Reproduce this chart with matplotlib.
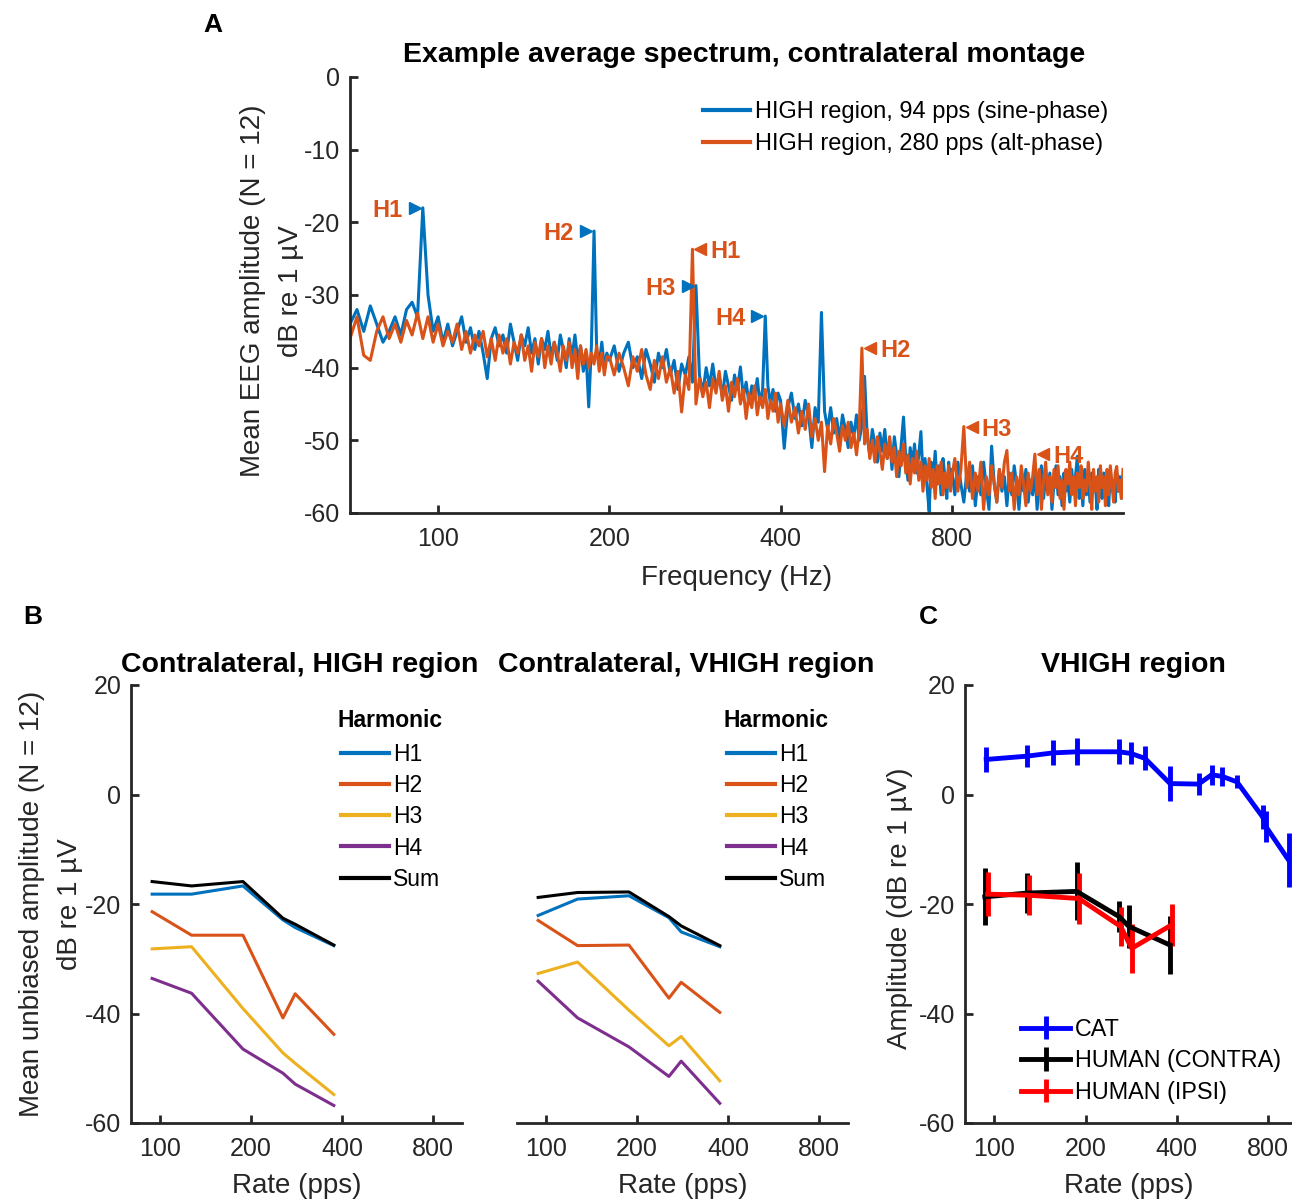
import numpy as np
import matplotlib
matplotlib.use("Agg")
import matplotlib.pyplot as plt
from matplotlib.transforms import offset_copy

plt.rcParams['font.family'] = ['Liberation Sans', 'DejaVu Sans']
plt.rcParams['axes.unicode_minus'] = False

# MATLAB default line colours
BLUE, ORANGE, YELLOW, PURPLE = '#0072BD', '#D95319', '#EDB120', '#7E2F8E'
AX_COL = '#262626'

# ---------------- panel A: average spectrum ----------------
# FFT bin frequencies (coarser bins at high frequency)
freq = np.concatenate([np.arange(70, 200, 2), np.arange(200, 400, 4),
                       np.arange(400, 800, 6), np.arange(800, 1601, 10)])

spec_94 = [
    # 70 - 198 Hz
    -34, -32, -35, -31.5, -34, -36.5, -35, -33, -35.5, -32,
    -31, -33, -18, -30, -35, -33, -36.5, -34, -37, -35,
    -33, -36.5, -34.5, -37.5, -35, -38, -41.5, -36, -34.5, -37,
    -35.5, -38, -34, -36.5, -39, -35.5, -37, -34.5, -38, -36,
    -39.5, -36, -37.5, -35, -38.5, -36.5, -39, -35.5, -37.5, -40,
    -36, -38.5, -35.5, -39, -37, -40.5, -38, -45.4, -37, -21.2,
    -37.5, -39.5, -36.5, -40, -38,
    # 200 - 396 Hz
    -39, -37, -40.5, -38, -36.5, -40, -38.5, -41.5, -37.5, -39.5,
    -42, -38, -40, -37.5, -41, -39, -43, -39.5, -41, -38.5,
    -42, -28.7, -41, -43.5, -40, -42.5, -39.5, -43, -41, -44,
    -40.5, -42.5, -44.5, -41, -43, -39.9, -44, -42, -45, -42.5,
    -44, -41.5, -45, -43, -32.9, -42.5, -45, -43, -46, -43.5,
    # 400 - 796 Hz
    -44.5, -51.1, -45.5, -43.5, -47, -45, -48, -44.5, -46.5, -51,
    -45.5, -47.5, -32.4, -46, -48.5, -45.5, -49, -47, -50, -46.5,
    -48.5, -51, -47.5, -49.5, -46.5, -50, -48, -41.2, -49.5, -52,
    -48.5, -50.5, -53, -49, -51.5, -48.5, -52.5, -50, -54, -49.5,
    -52, -55, -50.5, -46.8, -52.5, -55.5, -51, -53.5, -50.5, -54.5,
    -52, -48.8, -55, -52.5, -56.5, -59.8, -53, -55.5, -51.5, -56,
    -53.5, -57.5, -52.5, -55, -58, -53, -56,
    # 800 - 1600 Hz
    -54, -57.5, -53, -56, -58.5, -54.5, -57, -53.5, -59, -55,
    -57.5, -53, -56.5, -59.5, -50.8, -56, -58.5, -54, -57, -55,
    -59, -54.5, -57.5, -53.5, -56, -59.5, -55, -57, -54, -58.5,
    -55.5, -57.5, -54, -59.5, -56, -53.5, -58, -55, -57, -54.5,
    -59.5, -56, -53.5, -57.5, -55, -59, -54.5, -57, -55.5, -58.5,
    -54, -57, -55, -52.2, -58, -55.5, -59, -54, -57.5, -55,
    -58.5, -54.5, -57, -55.5, -59.5, -54, -56.5, -58, -54.5, -57.5,
    -55, -59, -54, -57, -55.5, -58.5, -54.5, -57, -55, -58,
    -55.5,
]

spec_280 = [
    # 70 - 198 Hz
    -36, -33, -38.3, -39, -35, -33, -36, -34, -36.5, -33.5,
    -35.5, -32.5, -36, -33, -36.5, -34, -37, -35, -36.5, -34,
    -37.5, -35, -38, -35.5, -37, -35, -38.5, -36, -39, -35.5,
    -38, -36, -39.5, -36.5, -38, -35.5, -39, -37, -40.5, -36.5,
    -38.5, -36, -40, -37, -39.5, -36.5, -38, -40.5, -37, -39,
    -36.5, -40, -37.5, -41.5, -37, -39.5, -37.5, -40, -38, -39.5,
    -37, -40.5, -38, -41, -38.5,
    # 200 - 396 Hz
    -38.5, -41, -38, -40, -42.5, -38.5, -40.5, -37.5, -41, -43,
    -39, -41.5, -38.5, -42, -40, -43.5, -40.5, -46.1, -41, -43,
    -23.7, -45, -41.5, -44, -42, -45.5, -41.5, -43.5, -40.5, -44.5,
    -42.5, -46, -42, -44, -41.5, -45, -43, -47, -43.5, -45.5,
    -42.5, -46.5, -44, -45.5, -43, -47, -44.5, -46, -43.5, -47.5,
    # 400 - 796 Hz
    -45, -48, -44.5, -47.5, -45.5, -49, -46, -48.5, -45, -49.5,
    -47, -50, -47.5, -54.3, -48, -50.5, -47, -49, -51.5, -48,
    -50, -47.5, -51, -49, -52, -48.5, -37.3, -50.5, -48.5, -52.5,
    -50, -53, -49.5, -51.5, -54, -50.5, -52.5, -49.5, -53, -51,
    -55, -51.5, -53.5, -50.5, -54.5, -52, -56, -52.5, -54.5, -51.5,
    -55.5, -53, -57, -53.5, -55.5, -52.5, -56.5, -54, -58, -53.5,
    -56, -53, -57.5, -54.5, -56.5, -53.5, -57,
    # 800 - 1600 Hz
    -55, -52.5, -57, -54, -48.1, -56.5, -53, -58, -54.5, -57,
    -53, -59.5, -55, -57.5, -53.5, -56, -58.5, -54, -56.5, -53,
    -51.4, -57, -54.5, -59.5, -55, -57.5, -53.5, -56, -59, -54.5,
    -57, -55, -51.9, -57.5, -54, -59.5, -55.5, -53, -57.5, -55,
    -58.5, -54, -56.5, -53.5, -58, -55.5, -59.5, -54, -56, -53,
    -57.5, -55, -59, -54.5, -56.5, -53.5, -58, -55.5, -57, -53,
    -56, -59.5, -54, -57, -55, -58.5, -53.5, -56.5, -55, -59,
    -54, -57.5, -53.5, -56, -58.5, -54.5, -53.6, -57, -55.5, -58,
    -54,
]
assert len(spec_94) == len(freq) and len(spec_280) == len(freq)

harm_names = ['H1', 'H2', 'H3', 'H4']
peaks_94 = [94, 188, 284, 376]
peaks_280 = [280, 556, 840, 1120]

# ---------------- panel B: harmonic amplitudes ----------------
rates_b = [94, 127, 188, 255, 280, 376]
high_h1 = [-18.2, -18.2, -16.7, -22.9, -24.3, -27.6]
high_h2 = [-21.4, -25.7, -25.7, -40.8, -36.4, -43.8]
high_h3 = [-28.2, -27.8, -39.1, -47.2, -49.1, -54.8]
high_h4 = [-33.6, -36.3, -46.5, -50.9, -52.9, -56.8]
high_sum = [-15.9, -16.7, -15.9, -22.6, -23.7, -27.5]

vhigh_h1 = [-22.1, -19.1, -18.5, -22.5, -25.1, -27.8]
vhigh_h2 = [-23.0, -27.6, -27.5, -37.2, -34.3, -39.8]
vhigh_h3 = [-32.7, -30.6, -39.4, -45.9, -44.2, -52.3]
vhigh_h4 = [-34.1, -40.8, -46.1, -51.5, -48.7, -56.4]
vhigh_sum = [-18.8, -17.9, -17.8, -22.3, -24.0, -27.6]

# ---------------- panel C: cat vs human ----------------
cat_rate = [94, 128, 156, 188, 258, 282, 314, 380, 472, 521, 566, 632, 768, 788, 936]
cat_db = [6.4, 7.0, 7.6, 7.8, 7.8, 7.5, 6.6, 2.0, 1.9, 3.6, 3.3, 2.3, -4.1, -5.9, -12.0]
cat_err = [2.2, 2.0, 2.3, 2.5, 2.3, 2.0, 2.2, 3.2, 2.0, 1.8, 1.7, 1.2, 2.2, 2.8, 4.9]

contra_rate = [93, 128, 187, 258, 278, 380]
contra_db = [-18.7, -18.0, -17.7, -22.3, -24.1, -27.5]
contra_err = [5.2, 3.7, 5.3, 2.9, 4.0, 5.3]

ipsi_rate = [95, 130, 190, 261, 284, 385]
ipsi_db = [-18.2, -18.4, -19.0, -24.1, -28.1, -23.8]
ipsi_err = [4.0, 3.7, 4.7, 3.6, 4.5, 3.8]

W, H = 1292, 1201
fig = plt.figure(figsize=(W / 100, H / 100), dpi=100)


def add_axes_px(left, top, right, bottom):
    return fig.add_axes([left / W, 1 - bottom / H, (right - left) / W, (bottom - top) / H])


def style(ax, xlim, ylim, yticks, show_y=True):
    ax.set_xscale('log')
    ax.set_xlim(*xlim)
    ax.set_ylim(*ylim)
    ax.set_xticks([100, 200, 400, 800])
    ax.set_xticklabels(['100', '200', '400', '800'])
    ax.minorticks_off()
    ax.set_yticks(yticks)
    for s in ['top', 'right']:
        ax.spines[s].set_visible(False)
    for s in ['left', 'bottom']:
        ax.spines[s].set_linewidth(2)
        ax.spines[s].set_color(AX_COL)
    ax.tick_params(direction='in', length=6, width=2, colors=AX_COL, labelsize=18)
    ax.tick_params(axis='x', pad=10)
    ax.tick_params(axis='y', pad=7)
    if not show_y:
        ax.spines['left'].set_visible(False)
        ax.tick_params(axis='y', left=False, labelleft=False)


# ---- A ----
axA = add_axes_px(350, 77, 1123, 513)
axA.plot(freq, spec_94, color=BLUE, lw=2.2, label='HIGH region, 94 pps (sine-phase)')
axA.plot(freq, spec_280, color=ORANGE, lw=2.2, label='HIGH region, 280 pps (alt-phase)')
style(axA, (70, 1600), (-60, 0), np.arange(-60, 1, 10))
axA.set_xlabel('Frequency (Hz)', fontsize=20, color=AX_COL, labelpad=10)
axA.set_ylabel('Mean EEG amplitude (N = 12)\ndB re 1 µV', fontsize=20, color=AX_COL,
               linespacing=1.6)
axA.yaxis.set_label_coords(-0.06, 0.51)
axA.set_title('Example average spectrum, contralateral montage', fontsize=20.5,
              fontweight='bold', pad=11, x=0.51)

spec_94_arr = np.array(spec_94)
spec_280_arr = np.array(spec_280)
left_tri = offset_copy(axA.transData, fig=fig, x=-8, y=0, units='dots')
right_tri = offset_copy(axA.transData, fig=fig, x=8, y=0, units='dots')
for f, lab in zip(peaks_94, harm_names):
    v = spec_94_arr[freq == f][0]
    axA.plot(f, v, marker='>', ms=9, color=BLUE, ls='none', transform=left_tri)
    axA.annotate(lab, (f, v), xytext=(-20, 0), textcoords='offset pixels', ha='right',
                 va='center_baseline', color=ORANGE, fontsize=17, fontweight='bold')
for f, lab in zip(peaks_280, harm_names):
    v = spec_280_arr[freq == f][0]
    axA.plot(f, v, marker='<', ms=9, color=ORANGE, ls='none', transform=right_tri)
    axA.annotate(lab, (f, v), xytext=(18, 0), textcoords='offset pixels', ha='left',
                 va='center_baseline', color=ORANGE, fontsize=17, fontweight='bold')

legA = axA.legend(loc='upper left', bbox_to_anchor=(0.4565, 0.944), frameon=False,
                  fontsize=17, handlelength=2.0, handletextpad=0.2, labelspacing=0.42,
                  borderpad=0, borderaxespad=0)
for ln in legA.get_lines():
    ln.set_linewidth(3)

# ---- B ----
harm_colors = [BLUE, ORANGE, YELLOW, PURPLE, 'black']
harm_labels = ['H1', 'H2', 'H3', 'H4', 'Sum']


def harmonic_panel(ax, series, title, show_y):
    for vals, col, lab in zip(series, harm_colors, harm_labels):
        ax.plot(rates_b, vals, color=col, lw=2.2, label=lab)
    style(ax, (80, 1000), (-60, 20), np.arange(-60, 21, 20), show_y=show_y)
    ax.set_xlabel('Rate (pps)', fontsize=20, color=AX_COL, labelpad=9)
    ax.set_title(title, fontsize=20.5, fontweight='bold', pad=9.5, x=0.511)
    leg = ax.legend(loc='upper left', bbox_to_anchor=(0.625, 0.946), frameon=False,
                    fontsize=16.5, title='Harmonic', handlelength=2.1, handletextpad=0.2,
                    labelspacing=0.36, borderpad=0, borderaxespad=0)
    leg.get_title().set_fontweight('bold')
    leg.get_title().set_fontsize(16.5)
    leg._legend_box.sep = 8
    for ln in leg.get_lines():
        ln.set_linewidth(3)


axB1 = add_axes_px(131, 685, 462, 1123)
harmonic_panel(axB1, [high_h1, high_h2, high_h3, high_h4, high_sum],
               'Contralateral, HIGH region', True)
axB1.set_ylabel('Mean unbiased amplitude (N = 12)\ndB re 1 µV', fontsize=20,
                color=AX_COL, linespacing=1.6)
axB1.yaxis.set_label_coords(-0.146, 0.5)

axB2 = add_axes_px(517, 685, 848, 1123)
harmonic_panel(axB2, [vhigh_h1, vhigh_h2, vhigh_h3, vhigh_h4, vhigh_sum],
               'Contralateral, VHIGH region', False)

# ---- C ----
axC = add_axes_px(965, 685, 1292, 1123)
axC.errorbar(cat_rate, cat_db, yerr=cat_err, color='#0000FF', lw=3.5, elinewidth=3.5,
             capsize=0, label='CAT')
axC.errorbar(contra_rate, contra_db, yerr=contra_err, color='black', lw=3.5,
             elinewidth=3.5, capsize=0, label='HUMAN (CONTRA)')
axC.errorbar(ipsi_rate, ipsi_db, yerr=ipsi_err, color='#FF0000', lw=3.5, elinewidth=3.5,
             capsize=0, label='HUMAN (IPSI)')
style(axC, (80, 960), (-60, 20), np.arange(-60, 21, 20))
axC.set_xlabel('Rate (pps)', fontsize=20, color=AX_COL, labelpad=9)
axC.set_ylabel('Amplitude (dB re 1 µV)', fontsize=20, color=AX_COL)
axC.yaxis.set_label_coords(-0.158, 0.49)
axC.set_title('VHIGH region', fontsize=20.5, fontweight='bold', pad=9.5, x=0.514)
axC.legend(loc='upper left', bbox_to_anchor=(0.172, 0.240), frameon=False, fontsize=16.8,
           handlelength=2.1, handletextpad=0.2, labelspacing=0.36, borderpad=0,
           borderaxespad=0)

# panel letters
fig.text(213 / W, 1 - 25 / H, 'A', fontsize=19, fontweight='bold', ha='center', va='center')
fig.text(33 / W, 1 - 617 / H, 'B', fontsize=19, fontweight='bold', ha='center', va='center')
fig.text(928 / W, 1 - 617 / H, 'C', fontsize=19, fontweight='bold', ha='center', va='center')

fig.savefig('out.png', dpi=100)
